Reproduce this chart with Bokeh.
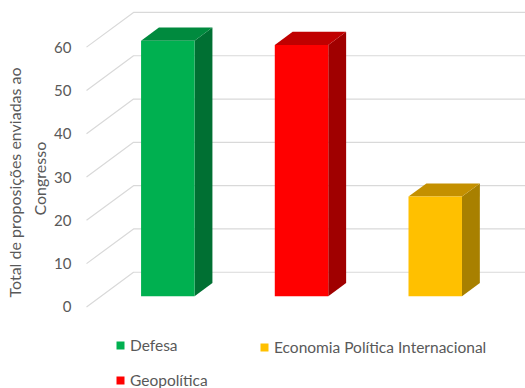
import math
from bokeh.plotting import figure
from bokeh.models import Range1d, Legend, LegendItem, Title, FixedTicker, ColumnDataSource
from bokeh.embed import file_html
from bokeh.resources import INLINE

# ---- data ----
categories = ["Defesa", "Geopolítica", "Economia Política Internacional"]
values = [59, 58, 23]
front_colors = ["#00B050", "#FF0000", "#FFC000"]
top_colors = ["#008A3E", "#C00000", "#C49000"]
side_colors = ["#007033", "#A00000", "#A88000"]
y_ticks = [0, 10, 20, 30, 40, 50, 60]
y_title = ["Total de proposições enviadas ao", "Congresso"]

# ---- 3D projection parameters (in axis units) ----
DX = 0.3515      # depth shift along x (category units)
DY = 8.01        # depth shift along y (value units)
F0 = 0.31        # depth fraction where bar starts
FD = 0.38        # depth fraction occupied by bar
BW = 0.40        # bar width (category units)
X_WALL = -0.608  # front-left start of gridlines

FONT = "Lato"
TXT = "#595959"

p = figure(width=525, height=388, output_backend="svg", toolbar_location=None,
           x_range=Range1d(-0.653, 2.675), y_range=Range1d(-18.84, 70.77),
           min_border_left=80, min_border_right=0, min_border_top=0,
           min_border_bottom=0)
p.outline_line_color = None
p.xgrid.visible = False
p.ygrid.visible = False
p.xaxis.visible = False
p.background_fill_color = "white"
p.border_fill_color = "white"

# gridlines (floor diagonal + back wall)
x_end = p.x_range.end
gxs = [[X_WALL, X_WALL + DX, x_end] for t in y_ticks]
gys = [[t, t + DY, t + DY] for t in y_ticks]
p.multi_line(gxs, gys, line_color="#D9D9D9", line_width=1.2)

# bars
b0 = F0 * DY
idx = list(range(len(categories)))
side_xs, side_ys, top_xs, top_ys = [], [], [], []
for i, v in zip(idx, values):
    l, r = i - BW / 2, i + BW / 2
    side_xs.append([r, r + FD * DX, r + FD * DX, r])
    side_ys.append([b0, b0 + FD * DY, b0 + FD * DY + v, b0 + v])
    top_xs.append([l, r, r + FD * DX, l + FD * DX])
    top_ys.append([b0 + v, b0 + v, b0 + v + FD * DY, b0 + v + FD * DY])

p.patches(side_xs, side_ys, fill_color=side_colors, line_color=None)
p.patches(top_xs, top_ys, fill_color=top_colors, line_color=None)

src = ColumnDataSource(dict(
    left=[i - BW / 2 for i in idx], right=[i + BW / 2 for i in idx],
    bottom=[b0] * len(idx), top=[b0 + v for v in values],
    color=front_colors, name=categories))
front = p.quad(left="left", right="right", bottom="bottom", top="top",
               fill_color="color", line_color=None, source=src)

# y axis
p.yaxis.ticker = FixedTicker(ticks=y_ticks)
p.yaxis.axis_line_color = None
p.yaxis.major_tick_line_color = None
p.yaxis.minor_tick_line_color = None
p.yaxis.major_label_standoff = 3
p.yaxis.major_label_text_font = FONT
p.yaxis.major_label_text_font_size = "15px"
p.yaxis.major_label_text_color = TXT

# axis title (two lines, rotated) as left-side titles
for txt, off, so in [(y_title[1], 173, 5), (y_title[0], 91, 4)]:
    p.add_layout(Title(text=txt, align="left", offset=off, standoff=so,
                       text_font=FONT, text_font_size="16px",
                       text_font_style="normal", text_color=TXT), "left")

# legend: column 1 (Defesa, Geopolítica), column 2 (EPI)
def make_legend(items, loc):
    return Legend(items=items, location=loc, orientation="vertical",
                  glyph_width=10, glyph_height=10, label_height=16, spacing=17,
                  padding=0, margin=0, border_line_color=None,
                  background_fill_alpha=0, label_standoff=5,
                  label_text_font=FONT, label_text_font_size="15.5px",
                  label_text_color=TXT)

items = [LegendItem(label=c, renderers=[front], index=i) for i, c in enumerate(categories)]
p.add_layout(make_legend([items[0], items[1]], (35, -1)), "center")
p.add_layout(make_legend([items[2]], (179, 32)), "center")

open("out.html", "w").write(file_html(p, INLINE))
